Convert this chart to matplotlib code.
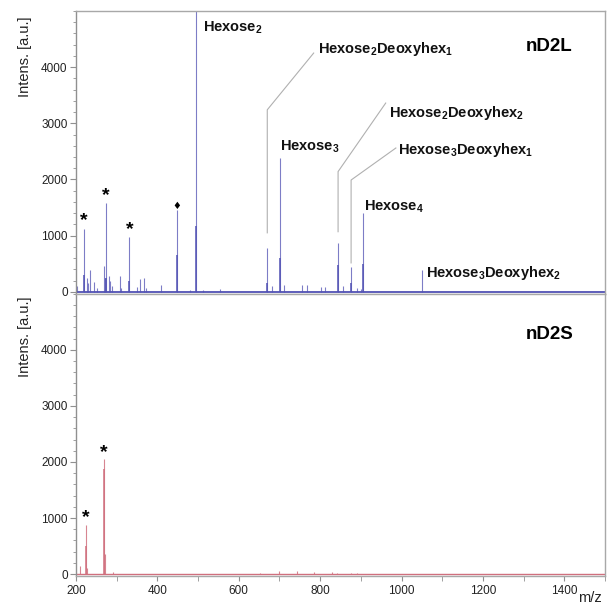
import matplotlib
matplotlib.use("Agg")
import matplotlib.pyplot as plt
from matplotlib.ticker import MultipleLocator, FixedLocator

plt.rcParams['font.family'] = ['Liberation Sans', 'DejaVu Sans']
plt.rcParams['mathtext.fontset'] = 'custom'
plt.rcParams['mathtext.rm'] = 'Liberation Sans'
plt.rcParams['mathtext.bf'] = 'Liberation Sans:bold'

# nD2L spectrum (m/z, intensity)
mz_L = [202, 219, 226, 230, 235, 243, 251, 268, 272, 274, 280, 284, 288,
        307, 311, 331, 349, 358, 368, 372, 409, 448, 479, 494, 512, 553,
        670, 682, 701, 711, 756, 768, 801, 813, 844, 856, 876, 891, 900,
        906, 1050]
int_L = [100, 1120, 250, 150, 380, 180, 60, 460, 250, 1580, 290, 200, 100,
         280, 60, 975, 80, 220, 250, 60, 130, 1460, 40, 5200, 40, 50,
         780, 100, 2380, 130, 130, 120, 80, 90, 870, 100, 450, 60, 50,
         1400, 390]
# darker cores of the main peaks
core_mz_L = [219, 274, 331, 448, 494, 670, 701, 844, 876, 906]
core_int_L = [300, 250, 190, 650, 1180, 150, 600, 480, 150, 500]

# nD2S spectrum
mz_S = [210, 225, 228, 269, 271, 291, 653, 698, 742, 786, 830, 842, 875, 891]
int_S = [150, 870, 100, 2060, 350, 30, 20, 60, 50, 40, 30, 20, 15, 15]
core_mz_S = [225, 269]
core_int_S = [500, 1880]

y_ticks = [0, 1000, 2000, 3000, 4000]

# annotations: label, text position (m/z, intensity)
labels_L = [r'Hexose$_\mathbf{2}$', r'Hexose$_\mathbf{2}$Deoxyhex$_\mathbf{1}$',
            r'Hexose$_\mathbf{3}$', r'Hexose$_\mathbf{2}$Deoxyhex$_\mathbf{2}$',
            r'Hexose$_\mathbf{3}$Deoxyhex$_\mathbf{1}$', r'Hexose$_\mathbf{4}$',
            r'Hexose$_\mathbf{3}$Deoxyhex$_\mathbf{2}$']
label_x = [513, 794, 702, 969, 991, 907, 1060]
label_y = [4700, 4330, 2580, 3180, 2520, 1510, 340]

# leader lines: peak m/z, start, bend height, end point
lead_mz = [670, 844, 876]
lead_y0 = [1050, 1070, 515]
lead_y1 = [3240, 2140, 1990]
lead_x2 = [784, 961, 986]
lead_y2 = [4250, 3360, 2560]

star_L_mz = [219, 274, 331]
star_L_y = [1270, 1720, 1100]
star_S_mz = [225, 269]
star_S_y = [1000, 2160]

blue = '#5252b4'
pink = '#d0707e'
gray = '#a8a8a8'

fig = plt.figure(figsize=(6.13, 6.07), dpi=100)
ax1 = fig.add_axes([0.124, 0.516, 0.863, 0.466])
ax2 = fig.add_axes([0.124, 0.051, 0.863, 0.465])

for ax in (ax1, ax2):
    ax.set_xlim(200, 1500)
    ax.set_ylim(-35, 5000)
    for s in ax.spines.values():
        s.set_color(gray)
        s.set_linewidth(1.0)
    ax.spines['left'].set_color('#909090')
    ax.yaxis.set_major_locator(FixedLocator(y_ticks))
    ax.yaxis.set_minor_locator(MultipleLocator(200))
    ax.tick_params(axis='y', which='major', direction='out', length=4,
                   color='#909090', labelsize=8.5, labelcolor='#222222', pad=2)
    ax.tick_params(axis='y', which='minor', direction='out', length=2.5,
                   color='#909090')

ax1.tick_params(axis='x', which='both', bottom=False, labelbottom=False)
ax2.xaxis.set_major_locator(MultipleLocator(200))
ax2.xaxis.set_minor_locator(MultipleLocator(100))
ax2.tick_params(axis='x', which='both', direction='out', length=3.5,
                color='#909090', labelsize=8.5, labelcolor='#222222', pad=3)

# spectra
ax1.axhline(0, color=blue, lw=1.3, zorder=2)
ax1.vlines(mz_L, 0, int_L, color=blue, lw=0.8, alpha=0.75)
ax1.vlines(core_mz_L, 0, core_int_L, color=blue, lw=1.1)
ax2.axhline(0, color=pink, lw=1.0, zorder=2)
ax2.vlines(mz_S, 0, int_S, color=pink, lw=0.8, alpha=0.85)
ax2.vlines(core_mz_S, 0, core_int_S, color=pink, lw=1.1)

# annotations
for lab, x, y in zip(labels_L, label_x, label_y):
    ax1.text(x, y, lab, fontsize=10.5, fontweight='bold', va='center',
             ha='left', color='#111111')
for x, y0, y1, x2, y2 in zip(lead_mz, lead_y0, lead_y1, lead_x2, lead_y2):
    ax1.plot([x, x, x2], [y0, y1, y2], color='#b0b0b0', lw=0.8)

for x, y in zip(star_L_mz, star_L_y):
    ax1.text(x, y, '*', fontsize=14, fontweight='bold', ha='center', va='center')
ax1.text(448, 1520, '\u2666', fontsize=7, ha='center', va='center',
         family='DejaVu Sans')
for x, y in zip(star_S_mz, star_S_y):
    ax2.text(x, y, '*', fontsize=14, fontweight='bold', ha='center', va='center')

ax1.text(0.895, 0.875, 'nD2L', transform=ax1.transAxes, fontsize=13.5,
         fontweight='bold', ha='center', va='center')
ax2.text(0.895, 0.855, 'nD2S', transform=ax2.transAxes, fontsize=13.5,
         fontweight='bold', ha='center', va='center')

fig.text(0.041, 0.972, 'Intens. [a.u.]', rotation=90, ha='center', va='top',
         fontsize=10.5, color='#222222')
fig.text(0.041, 0.511, 'Intens. [a.u.]', rotation=90, ha='center', va='top',
         fontsize=10.5, color='#222222')
fig.text(0.963, 0.004, 'm/z', ha='center', va='bottom', fontsize=10.5,
         color='#222222')

fig.savefig('out.png', dpi=100)
